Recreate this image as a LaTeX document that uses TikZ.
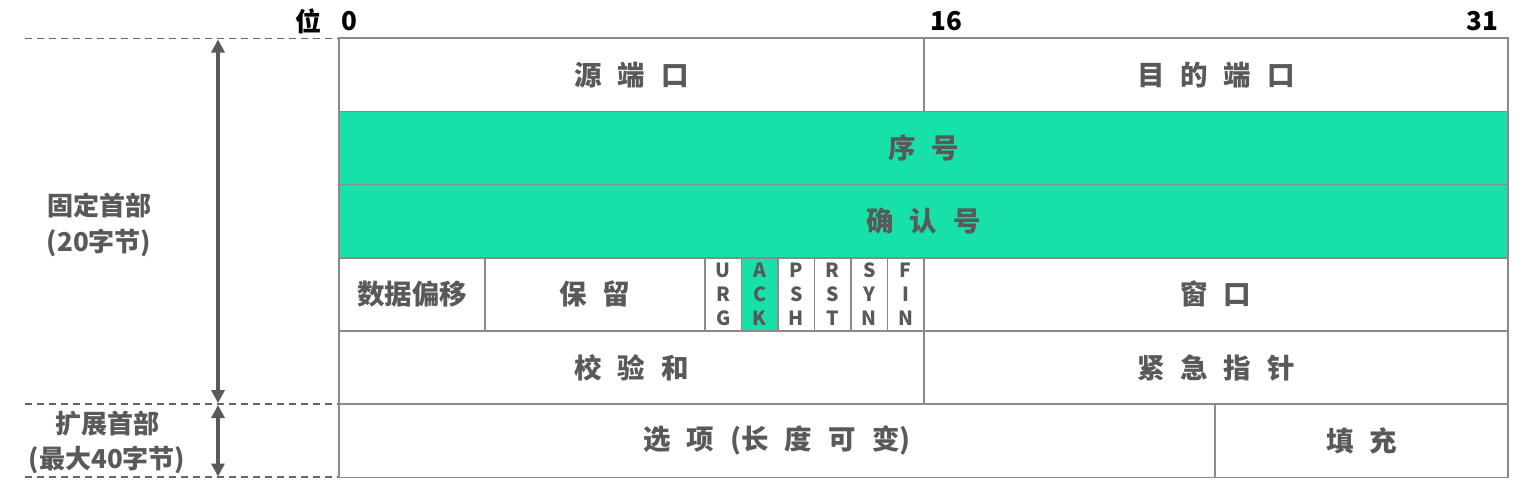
\documentclass[tikz,border=0pt]{standalone}
\usepackage{fontspec}
\setmainfont{Noto Sans CJK SC}
\usetikzlibrary{arrows.meta}
\definecolor{tgreen}{HTML}{17E0A9}
\definecolor{tline}{HTML}{8A8A8A}
\definecolor{ttext}{HTML}{595959}
\definecolor{tdash}{HTML}{666666}
\newcommand{\gp}{\hspace{16pt}}
\begin{document}
\begin{tikzpicture}[x=1pt,y=-1pt,
  cell/.style={draw=tline, line width=1.5pt, inner sep=0pt, outer sep=0pt, minimum height=73.2pt,
    text=ttext, font=\fontsize{27.5}{30}\selectfont\bfseries},
  gcell/.style={cell, fill=tgreen},
  flagcell/.style={cell, minimum width=36.5pt, align=center, font=\fontsize{19.5}{24}\selectfont\bfseries},
  toplbl/.style={font=\fontsize{26}{28}\selectfont\bfseries, text=black, inner sep=0pt},
  sidelbl/.style={font=\fontsize{26}{35.5}\selectfont\bfseries, text=ttext, align=center, inner sep=0pt},
  dashln/.style={draw=tdash, line width=1.6pt, dash pattern=on 7pt off 5pt},
  arr/.style={draw=ttext, line width=3.5pt, {Triangle[width=13pt,length=13pt]}-{Triangle[width=13pt,length=13pt]}, shorten <=0pt, shorten >=0pt}
]
\useasboundingbox (0,0) rectangle (1540,493);

% top labels
\node[toplbl] (wei) at (308,21) {位};
\node[toplbl] (b0) at (349,21) {0};
\node[toplbl] (b16) at (946,21) {16};
\node[toplbl] (b31) at (1482,21) {31};

% dashed lines
\coordinate (d1a) at (25,38.5);  \coordinate (d1b) at (339,38.5);
\coordinate (d2a) at (25,404);   \coordinate (d2b) at (339,404);
\coordinate (d3a) at (25,477);   \coordinate (d3b) at (339,477);
\draw[dashln] (d1a) -- (d1b);
\draw[dashln] (d2a) -- (d2b);
\draw[dashln] (d3a) -- (d3b);

% arrows
\coordinate (a1) at (218,39.5);
\coordinate (a2) at (218,403);
\coordinate (a3) at (218,405);
\coordinate (a4) at (218,476.5);
\draw[arr] (a1) -- (a2);
\draw[arr] (a3) -- (a4);

% side labels
\node[sidelbl] (fixed) at (99,225) {固定首部\\(20字节)};
\node[sidelbl] (ext) at (107,442.5) {扩展首部\\(最大40字节)};

% row 1
\node[cell, minimum width=585pt] (src) at (631.5,74.8) {源\gp 端\gp 口};
\node[cell, minimum width=584pt] (dst) at (1216,74.8) {目\gp 的\gp 端\gp 口};
% row 2
\node[gcell, minimum width=1169pt] (seq) at (923.5,148) {序\gp 号};
% row 3
\node[gcell, minimum width=1169pt] (ackn) at (923.5,221.2) {确\gp 认\gp 号};
% row 4
\node[cell, minimum width=146pt] (off) at (412,294.4) {数据偏移};
\node[cell, minimum width=220pt] (res) at (595,294.4) {保\gp 留};
\node[flagcell] (urg) at (723.25,294.4) {U\\R\\G};
\node[flagcell, fill=tgreen] (ack) at (759.75,294.4) {A\\C\\K};
\node[flagcell] (psh) at (796.25,294.4) {P\\S\\H};
\node[flagcell] (rst) at (832.75,294.4) {R\\S\\T};
\node[flagcell] (syn) at (869.25,294.4) {S\\Y\\N};
\node[flagcell] (fin) at (905.75,294.4) {F\\I\\N};
\node[cell, minimum width=584pt] (win) at (1216,294.4) {窗\gp 口};
% row 5
\node[cell, minimum width=585pt] (chk) at (631.5,367.6) {校\gp 验\gp 和};
\node[cell, minimum width=584pt] (urgp) at (1216,367.6) {紧\gp 急\gp 指\gp 针};
% row 6
\node[cell, minimum width=876pt] (opt) at (777,440.8) {选\gp 项\gp (长\gp 度\gp 可\gp 变)};
\node[cell, minimum width=293pt] (pad) at (1361.5,440.8) {填\gp 充};
\end{tikzpicture}
\end{document}
